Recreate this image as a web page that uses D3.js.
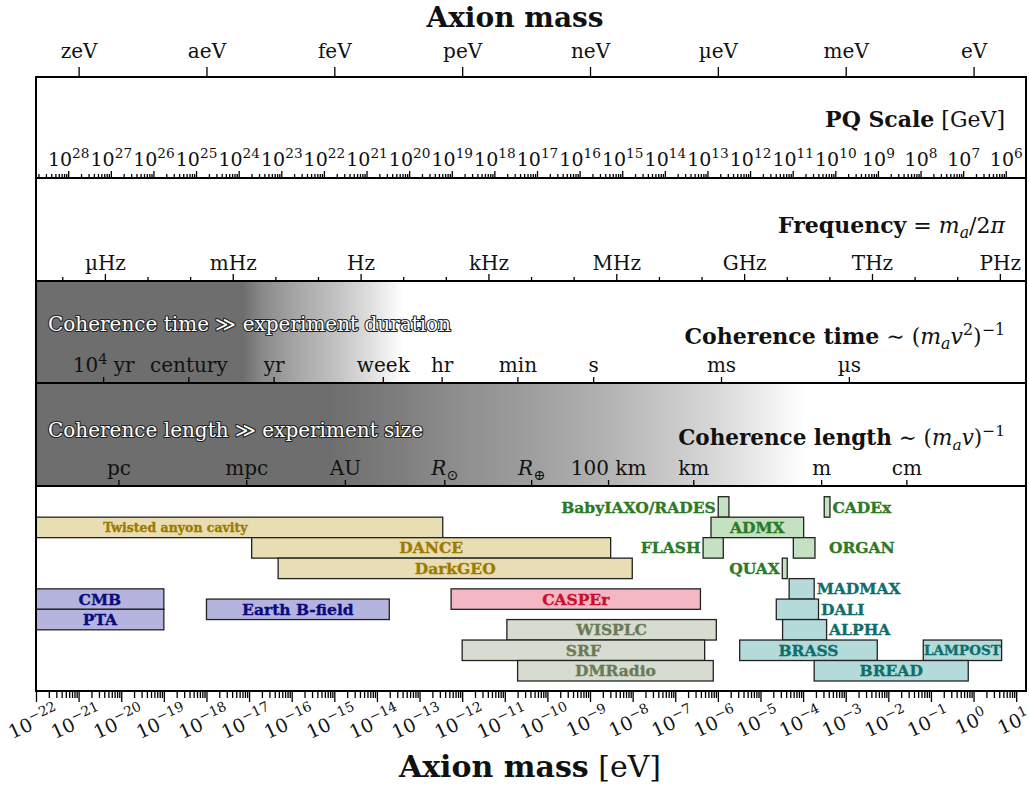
<!DOCTYPE html>
<html>
<head>
<meta charset="utf-8">
<script src="https://cdn.jsdelivr.net/npm/d3@7"></script>
<style>
  body { margin: 0; background: #fff; }
  svg { display: block; }
  text { font-family: "DejaVu Serif", serif; }
</style>
</head>
<body>
<svg id="chart" width="1029" height="788"></svg>
<script>
// mass range shown on the shared x axis (eV)
const MASS_MIN = 1e-22;
const MASS_MAX = 17;

// conversions from other quantities to axion mass
const H_PLANCK = 4.1357e-15;   // eV s
const HBAR = 6.582e-16;        // eV s
const HBARC = 1.9733e-7;       // eV m
const V_DM = 7.45e-4;          // halo velocity / c
const PQ_NORM = 5.7e6;         // m_a [eV] * f_a [GeV]

const unitLabels = ['zeV', 'aeV', 'feV', 'peV', 'neV', 'µeV', 'meV', 'eV'];
const unitMasses = [1e-21, 1e-18, 1e-15, 1e-12, 1e-9, 1e-6, 1e-3, 1];

const pqExponents = d3.range(28, 5, -1);

const freqLabels = ['µHz', 'mHz', 'Hz', 'kHz', 'MHz', 'GHz', 'THz', 'PHz'];
const freqHz = [1e-6, 1e-3, 1, 1e3, 1e6, 1e9, 1e12, 1e15];

const timeLabels = ['10^{4} yr', 'century', 'yr', 'week', 'hr', 'min', 's', 'ms', 'µs'];
const timeSeconds = [3.156e11, 3.156e9, 3.156e7, 8.64e4, 3600, 60, 1, 1e-3, 1e-6];

const lengthLabels = ['pc', 'mpc', 'AU', '$R$_{⊙}', '$R$_{⊕}', '100 km', 'km', 'm', 'cm'];
const lengthMeters = [3.086e16, 3.086e13, 1.496e11, 6.957e8, 6.371e6, 1e5, 1e3, 1, 1e-2];

// experiments: mass range (eV), lane (row from top), group
const experiments = [
  { name: 'BabyIAXO/RADES', lo: 1.02e-6, hi: 1.82e-6, lane: 0, group: 'green' },
  { name: 'CADEx', lo: 3.13e-4, hi: 4.27e-4, lane: 0, group: 'green' },
  { name: 'Twisted anyon cavity', lo: 1e-25, hi: 3.5e-13, lane: 1, group: 'tan' },
  { name: 'ADMX', lo: 6.9e-7, hi: 1.03e-4, lane: 1, group: 'green' },
  { name: 'DANCE', lo: 1.15e-17, hi: 3.05e-9, lane: 2, group: 'tan' },
  { name: 'FLASH', lo: 4.5e-7, hi: 1.34e-6, lane: 2, group: 'green' },
  { name: 'ORGAN', lo: 5.9e-5, hi: 1.9e-4, lane: 2, group: 'green' },
  { name: 'DarkGEO', lo: 4.8e-17, hi: 9.8e-9, lane: 3, group: 'tan' },
  { name: 'QUAX', lo: 3.25e-5, hi: 4.25e-5, lane: 3, group: 'green' },
  { name: 'CMB', lo: 1e-22, hi: 1e-19, lane: 4.5, group: 'blue' },
  { name: 'PTA', lo: 1e-22, hi: 1e-19, lane: 5.5, group: 'blue' },
  { name: 'Earth B-field', lo: 1e-18, hi: 1.95e-14, lane: 5, group: 'blue' },
  { name: 'CASPEr', lo: 5.5e-13, hi: 3.9e-7, lane: 4.5, group: 'pink' },
  { name: 'MADMAX', lo: 4.7e-5, hi: 1.82e-4, lane: 4, group: 'teal' },
  { name: 'DALI', lo: 2.35e-5, hi: 2.3e-4, lane: 5, group: 'teal' },
  { name: 'WISPLC', lo: 1.12e-11, hi: 9.2e-7, lane: 6, group: 'sage' },
  { name: 'ALPHA', lo: 3.3e-5, hi: 3.56e-4, lane: 6, group: 'teal' },
  { name: 'SRF', lo: 1e-12, hi: 4.9e-7, lane: 7, group: 'sage' },
  { name: 'BRASS', lo: 3.25e-6, hi: 5.5e-3, lane: 7, group: 'teal' },
  { name: 'LAMPOST', lo: 6.6e-2, hi: 4.55, lane: 7, group: 'teal' },
  { name: 'DMRadio', lo: 2e-11, hi: 7.8e-7, lane: 8, group: 'sage' },
  { name: 'BREAD', lo: 1.82e-4, hi: 0.75, lane: 8, group: 'teal' }
];

const groupFill = { tan: '#e9ddb4', blue: '#b4b4df', pink: '#f3b8c4', sage: '#d6dccf', green: '#c4e1c2', teal: '#b4dbd9' };
const groupText = { tan: '#9c7b00', blue: '#0b0b7e', pink: '#c8102e', sage: '#6a7a56', green: '#2b7a25', teal: '#0f6e6c' };

// labels drawn beside the bar instead of inside it
const labelSide = { 'BabyIAXO/RADES': 'left', FLASH: 'left', QUAX: 'left', CADEx: 'right', ORGAN: 'right', MADMAX: 'right', DALI: 'right', ALPHA: 'right' };
const labelGap = { ORGAN: 14 };
const labelSize = { 'Twisted anyon cavity': 12.5, LAMPOST: 13.5 };

// background shading: [log10 mass, grey]
const timeShade = [[-17.14, '#6e6e6e'], [-16.67, '#8a8a8a'], [-15.88, '#a6a6a6'], [-15.1, '#bdbdbd'], [-14.33, '#d8d8d8'], [-13.69, '#f2f2f2'], [-13.39, '#ffffff']];
const lengthShade = [[-15.1, '#6e6e6e'], [-13.46, '#7e7e7e'], [-11.98, '#8f8f8f'], [-10.88, '#999999'], [-8.77, '#b0b0b0'], [-7.36, '#c5c5c5'], [-6.42, '#d2d2d2'], [-5.25, '#e6e6e6'], [-4.31, '#f8f8f8'], [-3.96, '#ffffff']];

const svg = d3.select('#chart');
const x = d3.scaleLog().domain([MASS_MIN, MASS_MAX]).range([36, 1026]);
const left = x(MASS_MIN), right = x(MASS_MAX);
const band = { top: 77, pq: 178, freq: 281, time: 383, length: 486, bottom: 691 };
const lane = d3.scaleLinear().domain([0, 9]).range([496.7, 681]);

// split '10^{4} yr', '$R$_{⊙}' into styled pieces
function parse(s) {
  const parts = [];
  const re = /\^\{([^}]*)\}|_\{([^}]*)\}|\$([^$]*)\$|[^\^_$]+/g;
  let m;
  while ((m = re.exec(s))) {
    if (m[1] !== undefined) parts.push({ t: m[1], sup: true });
    else if (m[2] !== undefined) parts.push({ t: m[2], sub: true });
    else if (m[3] !== undefined) parts.push({ t: m[3], i: true });
    else parts.push({ t: m[0] });
  }
  return parts;
}

function rich(sel, parts, size) {
  let shift = 0;
  parts.forEach((p) => {
    const target = p.sup ? -0.42 * size : p.sub ? 0.24 * size : 0;
    const ts = sel.append('tspan').text(p.t);
    if (target !== shift) ts.attr('dy', target - shift);
    shift = target;
    if (p.sup || p.sub) ts.attr('font-size', size * 0.72);
    if (p.b) ts.attr('font-weight', 'bold');
    if (p.i) ts.attr('font-style', 'italic');
  });
}

function styleAxis(g, size) {
  g.attr('font-family', null).attr('font-size', size);
  g.select('.domain').remove();
  g.selectAll('.tick line').attr('stroke', '#000').attr('stroke-width', 1.3);
  g.selectAll('.tick text').attr('fill', '#111');
}

function shade(id, stops) {
  const grad = svg.append('defs').append('linearGradient')
    .attr('id', id).attr('gradientUnits', 'userSpaceOnUse')
    .attr('x1', left).attr('x2', right).attr('y1', 0).attr('y2', 0);
  stops.forEach(([lm, c]) => {
    grad.append('stop').attr('offset', (x(10 ** lm) - left) / (right - left)).attr('stop-color', c);
  });
}

shade('timeGrad', timeShade);
shade('lengthGrad', lengthShade);

svg.append('rect').attr('x', left).attr('y', band.freq).attr('width', right - left).attr('height', band.time - band.freq).attr('fill', 'url(#timeGrad)');
svg.append('rect').attr('x', left).attr('y', band.time).attr('width', right - left).attr('height', band.length - band.time).attr('fill', 'url(#lengthGrad)');

// experiments
svg.append('clipPath').attr('id', 'expClip').append('rect')
  .attr('x', left).attr('y', band.length).attr('width', right - left).attr('height', band.bottom - band.length);

const expG = svg.append('g').attr('clip-path', 'url(#expClip)');
const rowH = lane(1) - lane(0);

expG.selectAll('rect.exp').data(experiments).enter().append('rect')
  .attr('class', 'exp')
  .attr('x', (d) => x(d.lo))
  .attr('y', (d) => lane(d.lane))
  .attr('width', (d) => x(d.hi) - x(d.lo))
  .attr('height', rowH)
  .attr('fill', (d) => groupFill[d.group])
  .attr('stroke', '#222')
  .attr('stroke-width', 1.3);

expG.selectAll('text.exp').data(experiments).enter().append('text')
  .attr('class', 'exp')
  .attr('x', (d) => {
    const side = labelSide[d.name];
    const gap = labelGap[d.name] || 2.5;
    if (side === 'left') return x(d.lo) - gap;
    if (side === 'right') return x(d.hi) + gap;
    return (x(d.lo) + x(d.hi)) / 2;
  })
  .attr('y', (d) => lane(d.lane + 0.5))
  .attr('dy', '0.36em')
  .attr('text-anchor', (d) => labelSide[d.name] === 'left' ? 'end' : labelSide[d.name] === 'right' ? 'start' : 'middle')
  .attr('font-weight', 'bold')
  .attr('font-size', (d) => labelSize[d.name] || 15.5)
  .attr('fill', (d) => groupText[d.group])
  .attr('stroke', (d) => groupText[d.group])
  .attr('stroke-width', 0.35)
  .text((d) => d.name);

// top unit axis
const unitAxis = svg.append('g').attr('transform', `translate(0,${band.top})`)
  .call(d3.axisTop(x).tickValues(unitMasses).tickSize(10).tickPadding(9)
    .tickFormat((d) => unitLabels[unitMasses.indexOf(d)]));
styleAxis(unitAxis, 20);

// PQ scale axis
const fScale = d3.scaleLog().domain([PQ_NORM / MASS_MIN, PQ_NORM / MASS_MAX]).range([left, right]);
const pqMinor = [];
d3.range(29, 6, -1).forEach((n) => d3.range(2, 10).forEach((k) => {
  const f = 10 ** n / k;
  if (f <= PQ_NORM / MASS_MIN && f >= PQ_NORM / MASS_MAX) pqMinor.push(f);
}));
const pqMinorG = svg.append('g').attr('transform', `translate(0,${band.pq})`)
  .call(d3.axisTop(fScale).tickValues(pqMinor).tickSize(4).tickFormat(''));
styleAxis(pqMinorG, 10);
const pqAxis = svg.append('g').attr('transform', `translate(0,${band.pq})`)
  .call(d3.axisTop(fScale).tickValues(pqExponents.map((n) => 10 ** n)).tickSize(7).tickPadding(5).tickFormat(''));
styleAxis(pqAxis, 19);
pqAxis.selectAll('.tick text').each(function (d) {
  rich(d3.select(this), parse(`10^{${Math.round(Math.log10(d))}}`), 19);
});

// frequency axis
const freqMinor = d3.range(-7, 16).filter((n) => n % 3 !== 0).map((n) => 10 ** n * H_PLANCK);
const freqMinorG = svg.append('g').attr('transform', `translate(0,${band.freq})`)
  .call(d3.axisTop(x).tickValues(freqMinor).tickSize(4).tickFormat(''));
styleAxis(freqMinorG, 10);
const freqMasses = freqHz.map((f) => f * H_PLANCK);
const freqAxis = svg.append('g').attr('transform', `translate(0,${band.freq})`)
  .call(d3.axisTop(x).tickValues(freqMasses).tickSize(7).tickPadding(4)
    .tickFormat((d) => freqLabels[freqMasses.indexOf(d)]));
styleAxis(freqAxis, 20);

// coherence time axis
const timeMasses = timeSeconds.map((t) => HBAR / (V_DM * V_DM * t));
const timeAxis = svg.append('g').attr('transform', `translate(0,${band.time})`)
  .call(d3.axisTop(x).tickValues(timeMasses).tickSize(6).tickPadding(5).tickFormat(''));
styleAxis(timeAxis, 20);
timeAxis.selectAll('.tick text').each(function (d) {
  rich(d3.select(this), parse(timeLabels[timeMasses.indexOf(d)]), 20);
});

// coherence length axis
const lengthMasses = lengthMeters.map((l) => HBARC / (V_DM * l));
const lengthAxis = svg.append('g').attr('transform', `translate(0,${band.length})`)
  .call(d3.axisTop(x).tickValues(lengthMasses).tickSize(6).tickPadding(5).tickFormat(''));
styleAxis(lengthAxis, 20);
lengthAxis.selectAll('.tick text').each(function (d) {
  rich(d3.select(this), parse(lengthLabels[lengthMasses.indexOf(d)]), 20);
});

// bottom mass axis
const decades = d3.range(-22, 2);
const massMinor = [];
decades.forEach((n) => d3.range(2, 10).forEach((k) => {
  if (k * 10 ** n <= MASS_MAX) massMinor.push(k * 10 ** n);
}));
const minorG = svg.append('g').attr('transform', `translate(0,${band.bottom})`)
  .call(d3.axisBottom(x).tickValues(massMinor).tickSize(7).tickFormat(''));
styleAxis(minorG, 10);
const bottomAxis = svg.append('g').attr('transform', `translate(0,${band.bottom})`)
  .call(d3.axisBottom(x).tickValues(decades.map((n) => 10 ** n)).tickSize(11).tickFormat(''));
styleAxis(bottomAxis, 19);
bottomAxis.selectAll('.tick text').each(function (d) {
  const t = d3.select(this)
    .attr('y', null).attr('dy', '0.35em')
    .attr('text-anchor', 'middle')
    .attr('transform', 'translate(-3,31) rotate(-25)');
  const n = Math.round(Math.log10(d));
  rich(t, parse(`10^{${n < 0 ? '−' + (-n) : n}}`), 19);
});

// frame and band separators
svg.append('rect').attr('x', left).attr('y', band.top).attr('width', right - left).attr('height', band.bottom - band.top)
  .attr('fill', 'none').attr('stroke', '#000').attr('stroke-width', 2);
[band.pq, band.freq, band.time, band.length].forEach((y) => {
  svg.append('line').attr('x1', left).attr('x2', right).attr('y1', y).attr('y2', y)
    .attr('stroke', '#000').attr('stroke-width', 2);
});

// band titles
function title(xp, yp, parts, size, anchor) {
  const t = svg.append('text').attr('x', xp).attr('y', yp).attr('font-size', size).attr('text-anchor', anchor).attr('fill', '#111');
  rich(t, parts, size);
  return t;
}

title(515, 27, [{ t: 'Axion mass', b: true }], 28, 'middle');
title(530, 777, [{ t: 'Axion mass', b: true }, { t: ' [eV]' }], 30, 'middle');
title(1005, 127, [{ t: 'PQ Scale', b: true }, { t: ' [GeV]' }], 22, 'end');
title(1005, 233, [{ t: 'Frequency', b: true }, { t: ' = ' }, { t: 'm', i: true }, { t: 'a', i: true, sub: true }, { t: '/2' }, { t: 'π', i: true }], 22, 'end');
title(1005, 344, [{ t: 'Coherence time', b: true }, { t: ' ∼ (' }, { t: 'm', i: true }, { t: 'a', i: true, sub: true }, { t: 'v', i: true }, { t: '2', sup: true }, { t: ')' }, { t: '−1', sup: true }], 22, 'end');
title(1005, 445, [{ t: 'Coherence length', b: true }, { t: ' ∼ (' }, { t: 'm', i: true }, { t: 'a', i: true, sub: true }, { t: 'v', i: true }, { t: ')' }, { t: '−1', sup: true }], 21.5, 'end');

[['Coherence time ≫ experiment duration', 331], ['Coherence length ≫ experiment size', 437]].forEach(([s, yp]) => {
  svg.append('text').attr('x', 48).attr('y', yp).attr('font-size', 20)
    .attr('fill', '#fff').attr('stroke', '#222').attr('stroke-width', 2.2)
    .attr('stroke-linejoin', 'round').attr('paint-order', 'stroke')
    .text(s);
});
</script>
</body>
</html>
